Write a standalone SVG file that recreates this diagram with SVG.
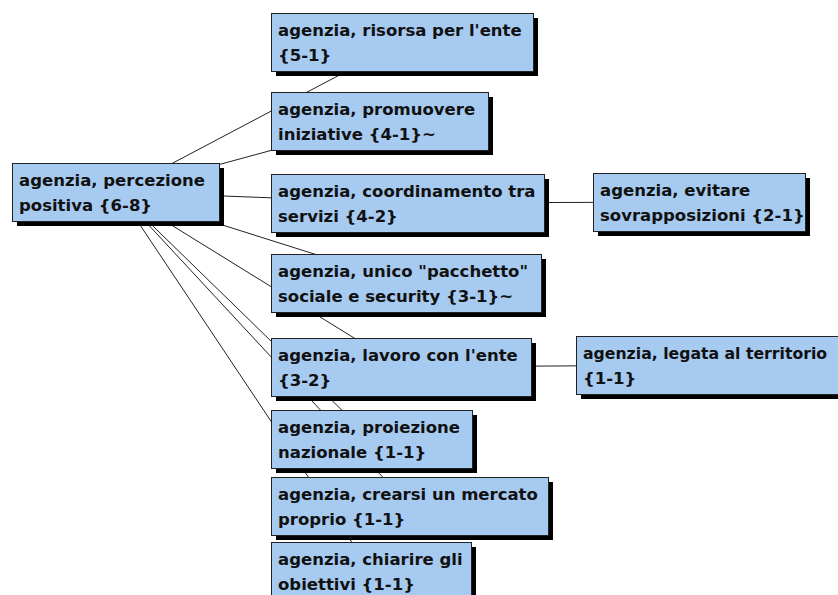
<svg xmlns="http://www.w3.org/2000/svg" width="838" height="595" viewBox="0 0 838 595">
  <style>
    .shadow { fill: #000; }
    .box { fill: #a6caf0; stroke: #222; stroke-width: 1; }
    .label { font-family: "DejaVu Sans", "Liberation Sans", sans-serif; font-weight: bold; font-size: 16.5px; fill: #111; }
    .tight { font-size: 15.7px; }
    .edge { stroke: #222; stroke-width: 1; fill: none; }
  </style>
  <rect width="838" height="595" fill="#fff"/>

  <!-- connectors, centre to centre, drawn underneath the boxes -->
  <g id="connectors">
    <line class="edge" x1="118" y1="192" x2="402" y2="42"/>
    <line class="edge" x1="118" y1="192" x2="379.5" y2="121"/>
    <line class="edge" x1="118" y1="192" x2="407.5" y2="203"/>
    <line class="edge" x1="118" y1="192" x2="406" y2="283"/>
    <line class="edge" x1="118" y1="192" x2="401" y2="367"/>
    <line class="edge" x1="118" y1="192" x2="371.5" y2="439"/>
    <line class="edge" x1="118" y1="192" x2="409.5" y2="506"/>
    <line class="edge" x1="118" y1="192" x2="371" y2="571"/>
    <line class="edge" x1="407.5" y1="203" x2="699" y2="202"/>
    <line class="edge" x1="401" y1="367" x2="708.5" y2="365"/>
  </g>

  <g id="n-percezione">
    <rect class="shadow" x="17" y="168" width="207" height="58"/>
    <rect class="box" x="12.5" y="163.5" width="207" height="58"/>
    <text class="label" x="19" y="186">agenzia, percezione</text>
    <text class="label" x="19" y="211">positiva {6-8}</text>
  </g>

  <g id="n-risorsa">
    <rect class="shadow" x="276" y="18" width="262" height="58"/>
    <rect class="box" x="271.5" y="13.5" width="262" height="58"/>
    <text class="label" x="278" y="36">agenzia, risorsa per l'ente</text>
    <text class="label" x="278" y="61">{5-1}</text>
  </g>

  <g id="n-promuovere">
    <rect class="shadow" x="276" y="97" width="217" height="58"/>
    <rect class="box" x="271.5" y="92.5" width="217" height="58"/>
    <text class="label" x="278" y="115">agenzia, promuovere</text>
    <text class="label" x="278" y="140">iniziative {4-1}~</text>
  </g>

  <g id="n-coordinamento">
    <rect class="shadow" x="276" y="179" width="273" height="58"/>
    <rect class="box" x="271.5" y="174.5" width="273" height="58"/>
    <text class="label" x="278" y="197">agenzia, coordinamento tra</text>
    <text class="label" x="278" y="222">servizi {4-2}</text>
  </g>

  <g id="n-unico">
    <rect class="shadow" x="276" y="259" width="270" height="58"/>
    <rect class="box" x="271.5" y="254.5" width="270" height="58"/>
    <text class="label" x="278" y="277">agenzia, unico "pacchetto"</text>
    <text class="label" x="278" y="302">sociale e security {3-1}~</text>
  </g>

  <g id="n-lavoro">
    <rect class="shadow" x="276" y="343" width="260" height="58"/>
    <rect class="box" x="271.5" y="338.5" width="260" height="58"/>
    <text class="label" x="278" y="361">agenzia, lavoro con l'ente</text>
    <text class="label" x="278" y="386">{3-2}</text>
  </g>

  <g id="n-proiezione">
    <rect class="shadow" x="276" y="415" width="201" height="58"/>
    <rect class="box" x="271.5" y="410.5" width="201" height="58"/>
    <text class="label" x="278" y="433">agenzia, proiezione</text>
    <text class="label" x="278" y="458">nazionale {1-1}</text>
  </g>

  <g id="n-crearsi">
    <rect class="shadow" x="276" y="482" width="277" height="58"/>
    <rect class="box" x="271.5" y="477.5" width="277" height="58"/>
    <text class="label" x="278" y="500">agenzia, crearsi un mercato</text>
    <text class="label" x="278" y="525">proprio {1-1}</text>
  </g>

  <g id="n-chiarire">
    <rect class="shadow" x="276" y="547" width="200" height="58"/>
    <rect class="box" x="271.5" y="542.5" width="200" height="58"/>
    <text class="label" x="278" y="565">agenzia, chiarire gli</text>
    <text class="label" x="278" y="590">obiettivi {1-1}</text>
  </g>

  <g id="n-evitare">
    <rect class="shadow" x="598" y="178" width="212" height="58"/>
    <rect class="box" x="593.5" y="173.5" width="212" height="58"/>
    <text class="label" x="600" y="196">agenzia, evitare</text>
    <text class="label" x="600" y="221">sovrapposizioni {2-1}</text>
  </g>

  <g id="n-legata">
    <rect class="shadow" x="581" y="341" width="265" height="58"/>
    <rect class="box" x="576.5" y="336.5" width="265" height="58"/>
    <text class="label tight" x="583" y="359">agenzia, legata al territorio</text>
    <text class="label" x="583" y="384">{1-1}</text>
  </g>
</svg>
